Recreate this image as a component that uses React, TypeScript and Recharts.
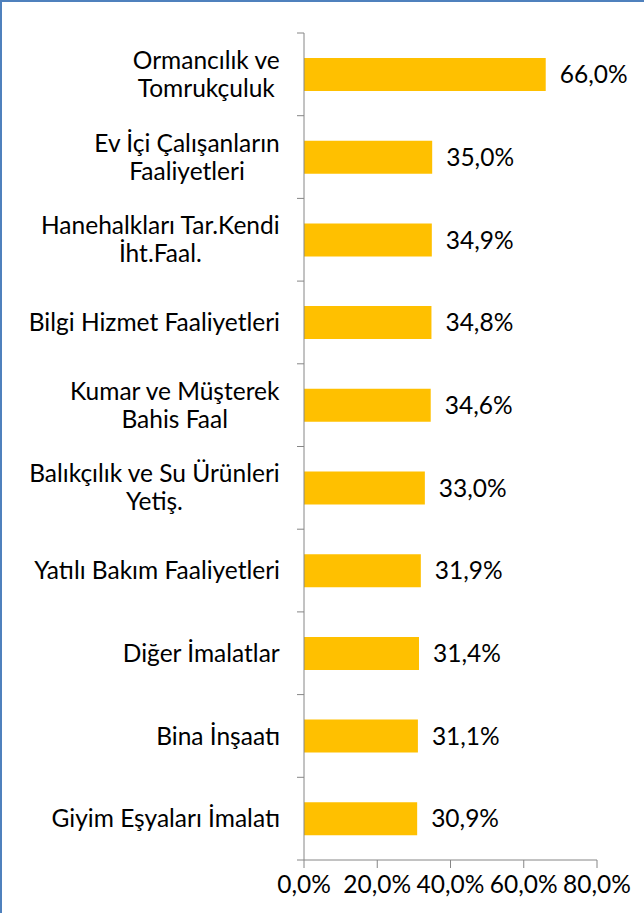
import { BarChart, Bar, XAxis, YAxis, LabelList } from 'recharts';

const categories = [
    'Ormancılık ve\nTomrukçuluk',
    'Ev İçi Çalışanların\nFaaliyetleri',
    'Hanehalkları Tar.Kendi\nİht.Faal.',
    'Bilgi Hizmet Faaliyetleri',
    'Kumar ve Müşterek\nBahis Faal',
    'Balıkçılık ve Su Ürünleri\nYetiş.',
    'Yatılı Bakım Faaliyetleri',
    'Diğer İmalatlar',
    'Bina İnşaatı',
    'Giyim Eşyaları İmalatı',
];
const values = [66.0, 35.0, 34.9, 34.8, 34.6, 33.0, 31.9, 31.4, 31.1, 30.9];
const xTicks = [0, 20, 40, 60, 80];
const frameTicks = [0, 1, 2, 3, 4, 5, 6, 7, 8, 9, 10];

const data = categories.map((name, i) => ({ name, value: values[i] }));

const FONT = 'Lato, sans-serif';
const FONT_SIZE = 24.5;
const AXIS_COLOR = '#868686';

const pct = (v: number) => `${v.toFixed(1).replace('.', ',')}%`;

let ctx: CanvasRenderingContext2D | null = null;
function textWidth(s: string) {
    if (!ctx) {
        ctx = document.createElement('canvas').getContext('2d');
    }
    if (!ctx) return s.length * FONT_SIZE * 0.5;
    ctx.font = `${FONT_SIZE}px Lato`;
    return ctx.measureText(s).width;
}

function CategoryTick(props: any) {
    const { x, y, payload } = props;
    const lines: string[] = String(payload.value).split('\n');
    const blockW = Math.max(...lines.map(textWidth));
    const cx = x - blockW / 2;
    const lh = 28;
    const y0 = y - ((lines.length - 1) * lh) / 2;
    return (
        <text x={cx} y={y0} textAnchor="middle" fontFamily={FONT} fontSize={FONT_SIZE} fill="#000">
            {lines.map((l, i) => (
                <tspan key={i} x={cx} y={y0 + i * lh} dy="0.35em">{l}</tspan>
            ))}
        </text>
    );
}

// boundary ticks between categories, drawn from the category band of the axis
function FrameTick(props: any) {
    const { y, index, payload } = props;
    const half = payload?.offset ?? 0;
    const axisX = 304;
    const top = y - half;
    return (
        <g>
            <line x1={axisX - 7} x2={axisX} y1={top} y2={top} stroke={AXIS_COLOR} />
            {index === categories.length - 1 && (
                <line x1={axisX - 7} x2={axisX} y1={y + half} y2={y + half} stroke={AXIS_COLOR} />
            )}
        </g>
    );
}

export default function App() {
    return (
        <div style={{ position: 'absolute', left: 0, top: 0, width: 644, height: 913, background: '#fff' }}>
            <BarChart
                width={644}
                height={913}
                data={data}
                layout="vertical"
                margin={{ top: 33, right: 47, bottom: 0, left: 0 }}
            >
                <XAxis
                    type="number"
                    domain={[0, 80]}
                    ticks={xTicks}
                    tickFormatter={pct}
                    height={53}
                    stroke={AXIS_COLOR}
                    tickSize={8}
                    tickMargin={8}
                    tick={{ fill: '#000', fontFamily: FONT, fontSize: FONT_SIZE }}
                    interval={0}
                />
                <YAxis
                    type="category"
                    dataKey="name"
                    width={304}
                    stroke={AXIS_COLOR}
                    tickLine={false}
                    tickSize={0}
                    tickMargin={24}
                    tick={(p: any) => (
                        <g>
                            <FrameTick {...p} />
                            <CategoryTick {...p} />
                        </g>
                    )}
                    interval={0}
                />
                <Bar dataKey="value" fill="#FFC000" barSize={33} isAnimationActive={false}>
                    <LabelList
                        dataKey="value"
                        position="right"
                        offset={14}
                        formatter={(v: any) => pct(Number(v))}
                        fill="#000"
                        fontFamily={FONT}
                        fontSize={FONT_SIZE}
                    />
                </Bar>
            </BarChart>
            <div style={{ position: 'absolute', left: 0, top: 0, width: 644, height: 2, background: '#4F81BD' }} />
            <div style={{ position: 'absolute', left: 0, top: 0, width: 2, height: 913, background: '#4F81BD' }} />
        </div>
    );
}
